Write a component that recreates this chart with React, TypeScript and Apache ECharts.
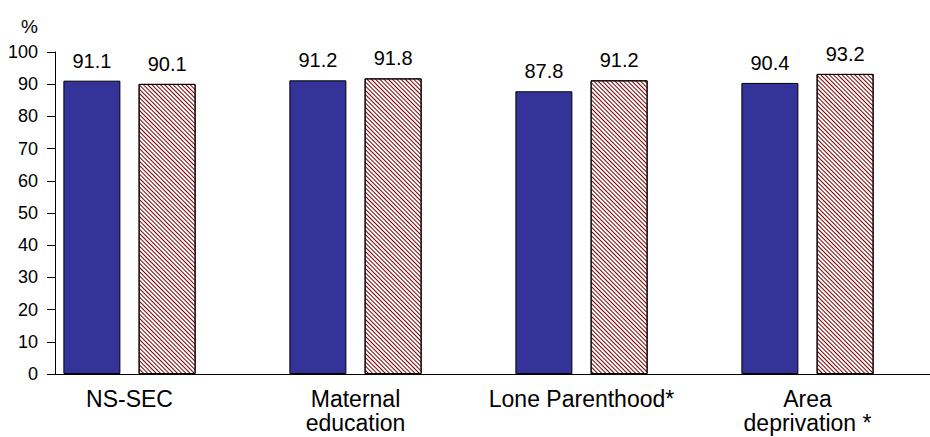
import React, { useEffect, useRef } from "react";
import * as echarts from "echarts";

const categories = ["NS-SEC", "Maternal\neducation", "Lone Parenthood*", "Area\ndeprivation *"];
const seriesSolid = [91.1, 91.2, 87.8, 90.4];
const seriesHatched = [90.1, 91.8, 91.2, 93.2];
const yTicks = { min: 0, max: 100, interval: 10 };

const FONT = "'Liberation Sans', Arial, Helvetica, sans-serif";

export default function App() {
  const ref = useRef<HTMLDivElement>(null);
  useEffect(() => {
    if (!ref.current) return;
    const chart = echarts.init(ref.current, null, { renderer: "svg" });
    const labelStyle = {
      show: true,
      position: "top" as const,
      distance: 10,
      fontSize: 20,
      color: "#000",
      fontFamily: FONT,
      formatter: (p: any) => Number(p.value).toFixed(1),
    };
    chart.setOption({
      animation: false,
      backgroundColor: "#fff",
      textStyle: { fontFamily: FONT },
      grid: [
        { left: 55, right: 0, top: 52, bottom: 63 },
        { left: 16.5, right: 9.5, top: 52, bottom: 63 },
      ],
      xAxis: [
        {
          gridIndex: 0,
          type: "value",
          min: 0,
          max: 1,
          axisLine: { show: true, onZero: false, lineStyle: { color: "#000", width: 1 } },
          axisTick: { show: false },
          axisLabel: { show: false },
          splitLine: { show: false },
        },
        {
          gridIndex: 1,
          type: "category",
          data: categories,
          axisLine: { show: false },
          axisTick: { show: false },
          axisLabel: {
            fontSize: 23,
            lineHeight: 24,
            color: "#000",
            fontFamily: FONT,
            margin: 13,
            interval: 0,
          },
        },
      ],
      yAxis: [
        {
          gridIndex: 0,
          type: "value",
          min: yTicks.min,
          max: yTicks.max,
          interval: yTicks.interval,
          name: "%",
          nameLocation: "end",
          nameGap: 16,
          nameTextStyle: {
            fontSize: 19,
            color: "#000",
            fontFamily: FONT,
            align: "right",
            padding: [0, 17, 0, 0],
          },
          axisLine: { show: true, lineStyle: { color: "#000", width: 1 } },
          axisTick: { show: true, length: 8, lineStyle: { color: "#000" } },
          axisLabel: { fontSize: 18, color: "#000", fontFamily: FONT, margin: 17 },
          splitLine: { show: false },
        },
        {
          gridIndex: 1,
          type: "value",
          min: yTicks.min,
          max: yTicks.max,
          interval: yTicks.interval,
          show: false,
        },
      ],
      series: [
        {
          name: "Group 1",
          type: "bar",
          xAxisIndex: 1,
          yAxisIndex: 1,
          data: seriesSolid,
          barWidth: 57,
          barGap: "32%",
          itemStyle: { color: "#333399", borderColor: "#000", borderWidth: 1 },
          label: labelStyle,
        },
        {
          name: "Group 2",
          type: "bar",
          xAxisIndex: 1,
          yAxisIndex: 1,
          data: seriesHatched,
          barWidth: 57,
          itemStyle: {
            color: "#ffffff",
            borderColor: "#000",
            borderWidth: 1,
            decal: {
              symbol: "rect",
              symbolSize: 1,
              color: "#7d0000",
              backgroundColor: "#ffffff",
              dashArrayX: [1, 0],
              dashArrayY: [1, 2],
              rotation: Math.PI / 4,
            },
          },
          label: labelStyle,
        },
      ],
    });
    return () => chart.dispose();
  }, []);
  return (
    <div
      ref={ref}
      style={{ position: "fixed", left: 0, top: 0, width: 930, height: 437, background: "#fff" }}
    />
  );
}
